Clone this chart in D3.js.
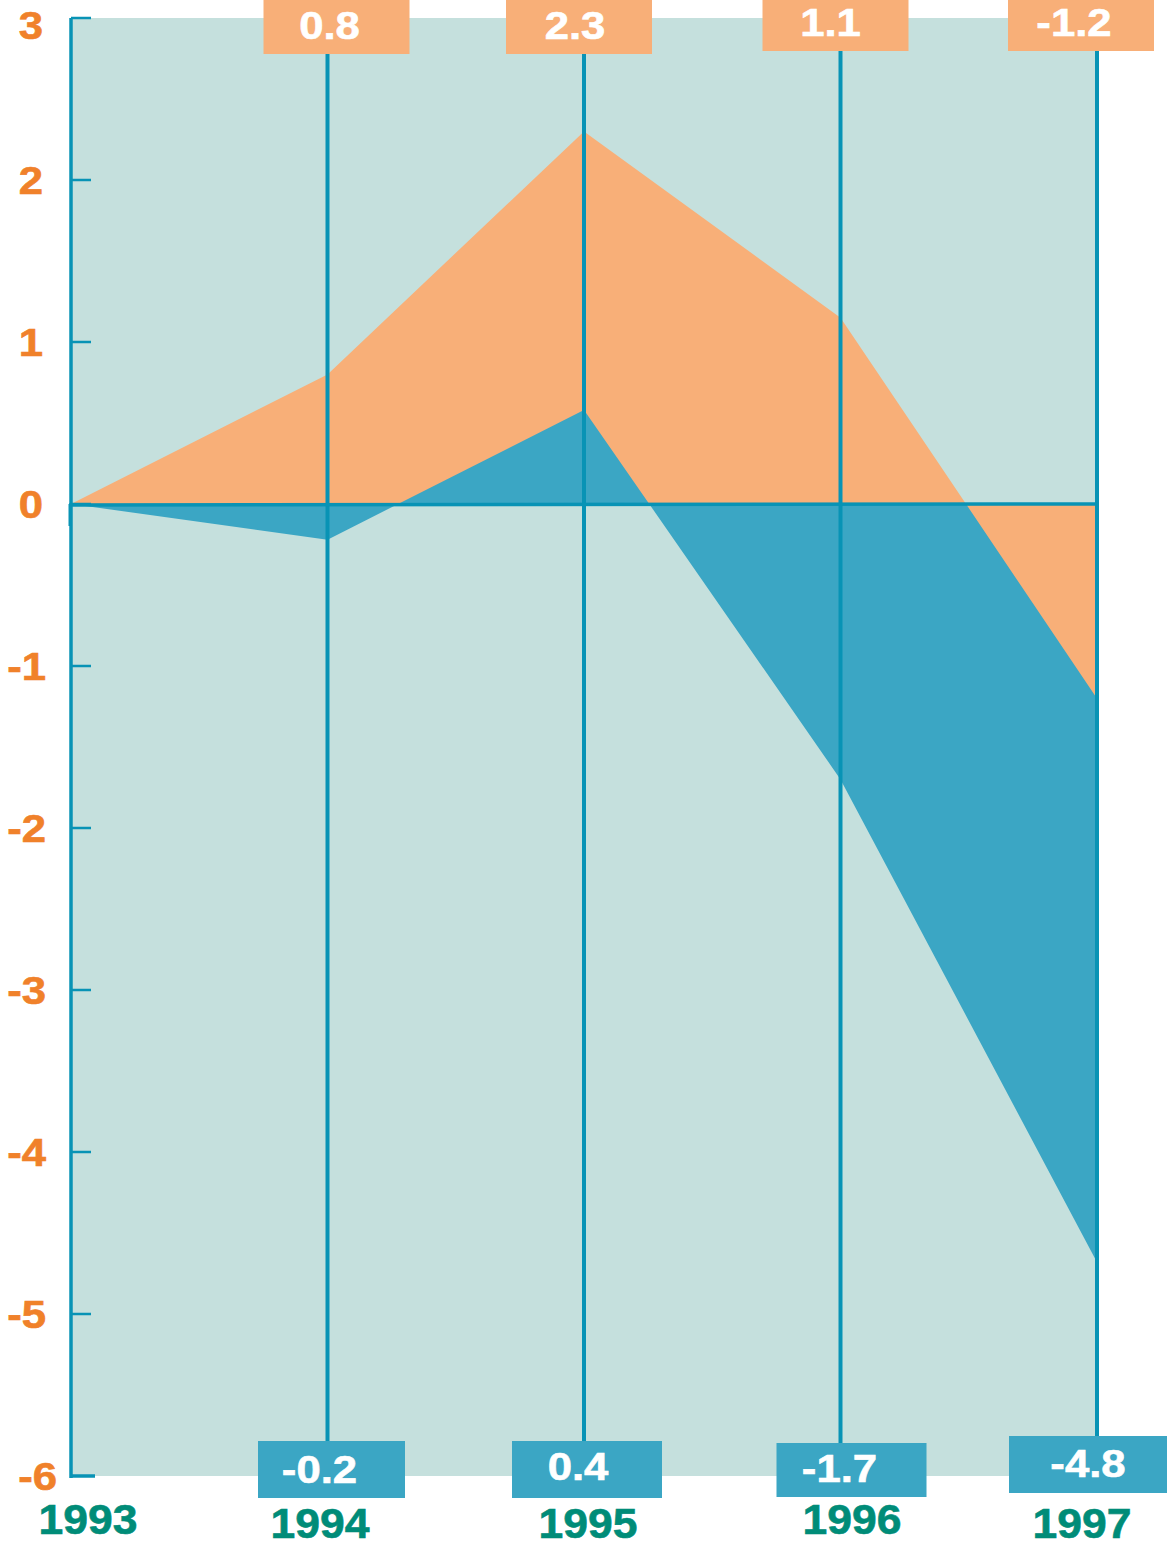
<!DOCTYPE html>
<html><head><meta charset="utf-8">
<script src="https://cdn.jsdelivr.net/npm/d3@7"></script>
<style>body{margin:0;background:#fff}svg{display:block}</style>
</head><body>
<script>
const years = ["1993","1994","1995","1996","1997"];
const orangeValues = [0, 0.8, 2.3, 1.15, -1.2];
const blueValues = [0, -0.22, 0.58, -1.7, -4.68];
const orangeLabels = ["", "0.8", "2.3", "1.1", "-1.2"];
const blueLabels = ["", "-0.2", "0.4", "-1.7", "-4.8"];
const yTicks = [3, 2, 1, 0, -1, -2, -3, -4, -5, -6];

// layout (pixel offsets of label boxes relative to each year line)
const topBoxShift = [0, 9, -5, -5, -16];
const topBoxH = [0, 54, 54, 51, 51];
const topTextShift = [0, -7, -4, -5, -7];
const botBoxShift = [0, 4, 3, 11, -9];
const botBoxW = [0, 147, 150, 150, 158];
const botBoxY = [0, 1441, 1441, 1443, 1436];
const botBoxH = [0, 57, 57, 54, 57];
const botTextShift = [0, -12, -9, -12, 0];
const botTextY = [0, 1483, 1480, 1482, 1477];
const yearX = [88, 320, 588, 852, 1082];
const yearY = [1534, 1538, 1538, 1534, 1538];

const W = 1170, H = 1543;
const C = {bg:"#c5e0dd", orange:"#f8af78", blue:"#3ba6c4", line:"#0893b5", orangeText:"#f0812a", green:"#008c78"};
const FONT = "'Liberation Sans', Arial, sans-serif";

const svg = d3.select("body").append("svg").attr("width", W).attr("height", H);
const x = d3.scalePoint().domain(years).range([71, 1097]);
const y = d3.scaleLinear().domain([-6, 3]).range([1476, 18]);

svg.append("rect").attr("x", x(years[0])).attr("y", y(3))
  .attr("width", x(years[4]) - x(years[0])).attr("height", y(-6) - y(3)).attr("fill", C.bg);

const area = vals => d3.area().x((d, i) => x(years[i])).y0(y(0)).y1(d => y(d))(vals);

svg.append("defs").append("clipPath").attr("id", "neg").append("rect")
  .attr("x", 0).attr("y", y(0)).attr("width", W).attr("height", H);

svg.append("path").attr("d", area(orangeValues)).attr("fill", C.orange);
svg.append("path").attr("d", area(blueValues)).attr("fill", C.blue);
svg.append("path").attr("d", area(orangeValues)).attr("fill", C.orange).attr("clip-path", "url(#neg)");

// vertical year lines
svg.selectAll("line.v").data(years.slice(1)).join("line")
  .attr("x1", d => x(d)).attr("x2", d => x(d)).attr("y1", y(3)).attr("y2", y(-6) - 30)
  .attr("stroke", C.line).attr("stroke-width", 4);

// zero line
svg.append("line").attr("x1", x(years[0]) - 2).attr("x2", x(years[4])).attr("y1", y(0)+1).attr("y2", y(0))
  .attr("stroke", C.line).attr("stroke-width", 3.5);
svg.append("line").attr("x1", x(years[0])-1).attr("x2", x(years[0])-1).attr("y1", y(0)).attr("y2", y(0)+22)
  .attr("stroke", C.line).attr("stroke-width", 3);

// left axis
svg.append("line").attr("x1", x(years[0])).attr("x2", x(years[0])).attr("y1", y(3)).attr("y2", y(-6)+2)
  .attr("stroke", C.line).attr("stroke-width", 3.5);
svg.selectAll("line.t").data(yTicks).join("line")
  .attr("x1", x(years[0])).attr("x2", d => x(years[0]) + (d === -6 ? 24 : 20))
  .attr("y1", d => y(d)).attr("y2", d => y(d))
  .attr("stroke", C.line).attr("stroke-width", d => d === -6 ? 3.5 : 2.5);

function stext(tx, ty, txt, size, sx, fill, anchor) {
  svg.append("g").attr("transform", `translate(${tx},${ty}) scale(${sx},1)`)
    .append("text").text(txt).attr("text-anchor", anchor || "middle")
    .attr("font-family", FONT).attr("font-weight", "bold").attr("font-size", size)
    .attr("fill", fill).attr("stroke", fill).attr("stroke-width", 0.6);
}

yTicks.forEach(t => {
  const ty = t === 3 ? y(t) + 21 : y(t) + 14;
  const tx = t === -6 ? 57 : (t === 3 || t === 2 || t === 1 || t === 0 ? 43 : 46);
  stext(tx, ty, String(t), 38, 1.15, C.orangeText, "end");
});

// top orange labels
years.forEach((yr, i) => {
  if (!orangeLabels[i]) return;
  const cx = x(yr) + topBoxShift[i];
  svg.append("rect").attr("x", cx - 73).attr("y", 0).attr("width", 146).attr("height", topBoxH[i]).attr("fill", C.orange);
  stext(cx + topTextShift[i], topBoxH[i] === 54 ? 39 : 36, orangeLabels[i], 38, 1.15, "#fff");
});

// bottom blue labels
years.forEach((yr, i) => {
  if (!blueLabels[i]) return;
  const cx = x(yr) + botBoxShift[i];
  svg.append("rect").attr("x", cx - botBoxW[i] / 2).attr("y", botBoxY[i]).attr("width", botBoxW[i])
    .attr("height", botBoxH[i]).attr("fill", C.blue);
  stext(cx + botTextShift[i], botTextY[i], blueLabels[i], 38, 1.15, "#fff");
});

// year labels
years.forEach((yr, i) => {
  stext(yearX[i], yearY[i], yr, 42, 1.06, C.green);
});
</script>
</body></html>
